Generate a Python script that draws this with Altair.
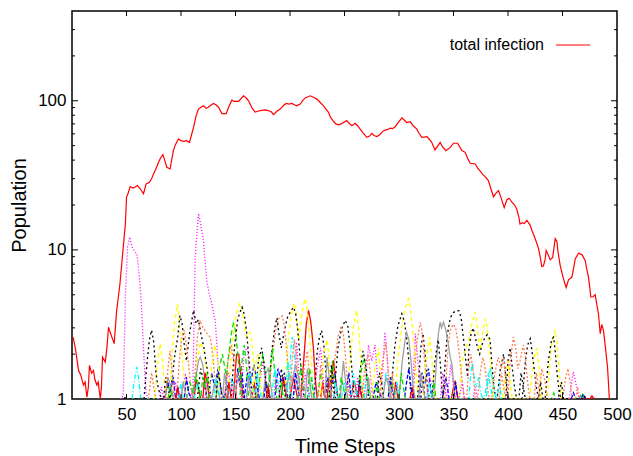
import altair as alt
import pandas as pd

# ---- total infection (red solid line) : (time step, population)
total = [(1,2.6),(3,2.2),(6,1.56),(8,1.45),(10.5,1.24),(12,1.3),(13.7,1.03),(15,1.2),(16,1.68),(18,1.49),
(19.7,1.55),(21,1.35),(22.8,1.24),(24,1.3),(26,1.0),(27,1.2),(28,1.91),(30.5,1.77),(32,2.2),(33.5,3.03),
(35,2.8),(36.6,2.6),(38.7,2.35),(41,3.93),(44,5.93),(47,10.4),(49,15),(50,22.5),(51.5,24),(53.4,26.6),
(56,26),(58,26.4),(60,27),(62.6,25.7),(65.6,23.8),(68,27.7),(71,28.4),(73,30),(74.8,32.3),(77,35),
(79.4,38.7),(81,41),(83.4,43.5),(85,40),(87,35.8),(90,34.9),(93,46.3),(95,51),(97.7,55.5),(100,54),
(102.3,53.5),(105,54),(107.8,52.7),(111.5,66.3),(114,80),(116,88),(118,90),(120.6,92.5),(123,89),(125,90.5),
(127,93),(129.8,96),(132,94),(134.4,90.5),(137.5,82),(141.5,82),(144,92),(146.7,101),(149,99),(152.8,99),
(157.3,108),(160,104),(162,100),(165,90),(168,84),(172.7,86),(177,87),(180,86),(183,84),(184.9,80.7),
(188,85),(191,88),(194,93),(196.5,96),(199,95),(201.7,96),(204,94),(206,92.5),(209.4,95),(212,101),
(214,104.5),(218.5,108),(221,106),(224.7,102.6),(228,97),(230.7,92.5),(233,88),(235.3,83.6),(237,78),(240,72.6),
(242,70),(244.5,69),(247,70),(249,71.5),(252,73.6),(254,71),(256.8,68),(259.8,70.7),(262,68),(264.4,64.5),
(267,61),(270.5,56.9),(273,58),(275,60.4),(277,58.5),(279.7,57.5),(282,59),(285.8,63),(289,64),(292,65.5),
(294,65),(296.5,67),(299,71),(302.7,76.8),(305,74),(307,71.5),(310.3,72.3),(313,68),(316.4,64.5),(318,61),
(321,56.9),(325.6,57.5),(328,55),(330,52.7),(333,46.8),(337.8,52.5),(340,49),(343,46.3),(347,48.7),(350,51.9),
(353.7,51.9),(357.7,46.3),(360.7,45.1),(363,41),(365.3,38.1),(370,37.7),(372,35.5),(374.5,33.7),(377,32),(379,31),
(382,29.2),(384.3,25.7),(386.7,22.7),(389,24),(391.3,25),(394,22),(396.5,19.2),(399,21.7),(401,22.2),(403.6,20.9),
(406,20),(408,18.8),(410,16.5),(411,14.9),(413,15.2),(415,15),(417.3,15.8),(420.4,14.6),(422,13.5),(424,12.4),
(426,11.3),(428,10.2),(429.5,9),(431,7.75),(432.5,7.8),(434,8.6),(435,9.9),(437,9.2),(438.7,8.6),(441,8.9),
(443.3,11.9),(444.8,11.4),(446,9.6),(447.9,7.85),(450.4,6.6),(452,6.0),(453.4,5.6),(455.5,6.3),(458.6,6.57),(460,7.4),
(461.7,8.7),(464.7,9.5),(467.8,9.3),(470.8,8.5),(472,7.6),(473.8,6.57),(475,5.6),(476,4.82),(478,4.85),(480,5.0),
(481.5,4.3),(483,3.73),(484.6,2.74),(486,3.16),(487.6,2.88),(489,2.35),(491.3,1.64),(493,1.0),(494,0.8)]

# ---- individual clusters (thin coloured lines near the bottom)
magenta1 = [(44,1),(47,1.05),(49,5),(51,10.5),(53,12.2),(55,10.5),(57,9.9),(59.5,9.4),(61,7.5),(62.6,5.6),
(64,3.8),(65.6,2.2),(67,1.4),(68,1.1),(70,1),(100,1),(104,1.48),(107,1.1),(109,1),(111,1.3),(113,9),(116,17.5),
(118,15),(120.6,11.5),(122,8.5),(123.7,6.2),(126,5),(128.3,4.35),(130,3.7),(131.4,3.37),(133,2.23),(135,1.3),
(137,1),(155,1),(158,2.1),(161,2.2),(163,1.3),(165,1),(203,1),(206,2.4),(209,1.2),(211,1),(268,1),(272,2.3),
(275,1.8),(278,2.3),(281,1.2),(283,1),(285,1.5),(287,2.8),(289,2.0),(291,1),(312,1),(315,2.74),(318,1.6),
(320,1),(344,1),(347.6,1.7),(350,1.2),(352,1),(456,1),(460,1.52),(463,1.2),(465,1)]
black1 = [(66,1),(69,1.8),(71,2.5),(73,2.9),(75,2.4),(77,1.5),(79,1.2),(82,1),(90,1),(94,1.9),(97,2.6),(99,3.63),
(101,3.2),(103,2.3),(105,1.8),(108,2.8),(111.5,3.93),(114,3.2),(116,3.4),(118,2.8),(121,2.2),(124,1.6),(126,1.2),
(128,1),(146,1),(149,2.2),(152,3.4),(154,3.8),(156,4.13),(158,3.7),(160,2.9),(162,2.0),(164,1.3),(166,1),(180,1),
(183,2),(186,3.0),(188,3.5),(190,2.7),(192,2.2),(195,2.9),(198,3.6),(201,3.9),(203,4.13),(205,3.8),(207,3.0),
(209,2.0),(211,1.3),(213,1),(222,1),(225,2.1),(227,2.6),(229,2.88),(231,2.3),(233,1.5),(235,1),(240,1),(244,2.2),
(247,2.9),(250.6,3.37),(253,3.1),(255,2.3),(257,1.5),(259,1),(292,1),(296,2.2),(299,3.1),(302.6,3.73),(305,3.3),
(307,2.6),(309,1.8),(311,1),(317,1),(320,2.2),(322,2.74),(324,2.0),(326,1.2),(328,1),(340,1),(344,2.6),(347,3.5),
(350,3.8),(353,3.93),(355,3.9),(357,3.5),(359,2.6),(361,1.9),(363,1.4),(364,2.1),(366,2.7),(368,3.0),(370,2.6),
(372,2.2),(374,2.0),(376,2.3),(379,2.6),(381,2.7),(383.6,2.5),(385,1.8),(387,1.2),(389,1),(398,1),(400,1.8),
(402,2.2),(404,1.6),(406,1.2),(408,1),(413,1),(416,1.8),(418,2.3),(420.4,2.54),(422,2.1),(424,1.6),(426,1.2),
(428,1),(434,1),(437,1.8),(440,2.5),(441.8,2.6),(443,2.2),(445,1.5),(447,1.1),(449,1)]
yellow1 = [(76,1),(78,1.6),(81,2.35),(83,1.8),(85,1.2),(87,1),(90,1),(92,2.1),(94,3.2),(96.8,4.35),(98,3.5),
(100,2.4),(102,1.6),(104,1.2),(106,1),(112,1),(115,1.8),(118,2.4),(121,2.1),(124,1.5),(126,1),(143,1),(146,2.0),
(149,3.0),(151,3.8),(154,4.37),(156,4.0),(158,3.2),(160,2.6),(163,2.8),(165,2.5),(167,1.6),(169,1),(195,1),
(198,2.4),(201,3.6),(204,4.4),(206,3.6),(208,2.5),(210,3.3),(212,4.2),(214,4.7),(216,3.8),(218,2.6),(220,1.6),
(222,1),(252,1),(255,1.8),(258,3.0),(261,3.93),(263,3.0),(265,1.8),(267,1),(296,1),(299,1.8),(302,2.8),(305,3.9),
(308.7,4.7),(310,4.2),(312,3.2),(314,2.2),(316,1.4),(318,1),(355,1),(358,1.8),(361,2.2),(364,2.5),(367,3.2),
(370,3.83),(372,3.0),(374,2.0),(376,2.6),(379,3.45),(381,3.0),(383,2.1),(385,1.4),(387,1),(420,1),(423,1.8),
(426.5,2.2),(429,1.5),(431,1),(436,1),(439,2.0),(441,2.6),(443.3,2.9),(445,2.3),(447,1.5),(449,1)]
orange1 = [(96,1),(99,2.0),(101,2.6),(103,2.9),(105,2.3),(107,1.7),(109,1.2),(111,1),(113,1.5),(115,2.6),
(117.6,3.37),(119,3.1),(120.6,3.0),(123,2.8),(126.8,2.6),(129,2.0),(131,1.4),(133,1),(180,1),(184,2.0),(187,2.9),
(190,3.5),(193,3.6),(195,3.0),(197,2.1),(199,1.4),(201,1),(238,1),(241,1.8),(244,2.6),(247,3.1),(249,2.7),
(251,1.9),(253,1.2),(255,1),(313,1),(316,2.3),(319.5,3.28),(321,2.9),(323,2.0),(325,1.3),(327,1),(342,1),
(345,2.2),(347,2.9),(349.5,3.17),(352,3.0),(354,2.4),(356,1.8),(358,1.3),(360,1),(372,1),(375,1.6),(377,1.9),
(379,1.6),(381,1.2),(383,1),(400,1),(402,1.8),(405,2.6),(407,2.2),(409,1.6),(411,1.8),(414,2.3),(416,1.9),
(418,1.3),(420,1),(450,1),(453,1.4),(455,1.6),(457,1.3),(459,1)]
grey1 = [(110,1),(113,1.3),(116,1.8),(117.6,1.91),(120,1.7),(122,1.3),(124,1),(175,1),(178,1.5),(180,1.6),
(182,1.3),(184,1),(300,1),(303,1.8),(306,2.6),(307,2.8),(309,2.5),(311,1.8),(313,1.2),(315,1),(332,1),(334,1.6),
(336,2.7),(337.8,3.28),(339,3.0),(340.8,3.28),(343,2.9),(345,2.4),(347,1.9),(348.5,1.73),(350,1.3),(351.6,1.0)]
green1 = [(140,1),(143,1.8),(146,2.7),(148,3.2),(150,2.9),(152,2.0),(154,1.4),(156,1),(170,1),(173,1.6),(175,2.0),
(177,1.5),(179,1),(225,1),(228,1.5),(230,1.2),(232,1),(262,1),(264,1.4),(266,1.2),(268,1)]
red1 = [(148,1),(150,1.6),(151,2.0),(153,2.0),(155,1.4),(157,1),(210,1),(213,2.0),(215,3.2),(217,3.93),(219,3.3),
(220.5,2.6),(221.5,2.2),(223,1.4),(225,1),(237,1),(239,1.6),(240,1.82),(242,1.3),(244,1),(256,1),(258,1.25),
(259,1.33),(261,1.1),(262,1),(348,1),(350,1.2),(351.5,1.33),(353,1.1),(354,1)]
cyan1 = [(55,1),(57,1.3),(59.5,1.64),(61,1.4),(63,1),(145,1),(147,1.4),(149,1.2),(151,1),(199,1),(201,2.2),
(202,2.6),(204,2.0),(206,1.4),(208,1),(268,1),(270,1.4),(272,1.2),(274,1),(364,1),(366,1.5),(367.4,1.75),
(369,1.4),(371,1.2),(373,1.4),(375,1.1),(377,1)]
blue1 = [(85,1),(88,1.3),(90,1.1),(93,1.4),(95,1),(125,1),(128,1.5),(131,1.2),(134,1.6),(137,1.1),(140,1),(158,1),
(161,1.5),(164,1.3),(167,1.7),(170,1.2),(172,1),(186,1),(189,1.6),(192,1.3),(195,1.5),(198,1),(232,1),(235,1.4),
(238,1.2),(241,1.5),(244,1),(276,1),(279,1.3),(282,1.1),(285,1),(318,1),(321,1.5),(324,1.3),(327,1.6),(330,1),
(340,1),(343,1.4),(346,1),(458,1),(460,1.1),(462,1)]
green2 = [(105,1),(108,1.3),(111,1.1),(114,1.5),(117,1),(132,1),(135,1.6),(138,2.0),(141,1.5),(143,1),(178,1),
(181,1.4),(184,2.2),(186,1.5),(188,1),(207,1),(210,1.7),(212,1.3),(214,1),(236,1),(239,1.8),(241,1.3),(244,1),
(262,1),(265,1.5),(268,1.9),(271,1.3),(273,1),(290,1),(293,1.4),(296,1),(465,1),(468,1.1),(470,1)]
magenta2 = [(92,1),(95,1.3),(97,1),(140,1),(143,1.5),(146,1.3),(148,1),(170,1),(173,1.4),(175,1.8),(177,1.4),
(179,1),(222,1),(225,1.6),(228,2.2),(230,1.5),(232,1),(250,1),(253,1.3),(256,1),(325,1),(328,1.4),(331,1.2),
(333,1),(355,1),(358,1.3),(360,1)]
grey2 = [(85,1),(88,1.4),(91,1.2),(93,1),(128,1),(131,1.3),(134,1.1),(136,1),(196,1),(199,1.5),(202,1.3),
(205,1.7),(208,1.4),(210,1),(246,1),(249,1.8),(251,1.3),(253,1),(285,1),(288,1.4),(291,1.2),(293,1)]
cyan2 = [(112,1),(115,1.3),(118,1.1),(120,1),(160,1),(163,1.5),(166,1.2),(168,1),(183,1),(186,1.6),(189,1.3),
(191,1),(217,1),(220,1.4),(223,1),(247,1),(250,1.3),(253,1),(285,1),(288,1.5),(291,1.2),(293,1),(378,1),
(381,1.3),(384,1.6),(387,1.2),(389,1)]
red2 = [(112,1),(114,1.35),(116,1.2),(118,1),(165,1),(167,1.3),(169,1),(200,1),(203,1.4),(205,1.2),(207,1),
(228,1),(230,1.3),(232,1),(310,1),(312,1.2),(314,1),(475,1),(477,1.05),(479,1)]
orange2 = [(70,1),(73,1.5),(75,1.2),(77,1),(140,1),(143,1.8),(146,2.3),(149,1.7),(151,1),(210,1),(213,1.6),
(216,2.1),(218,1.4),(220,1),(266,1),(269,1.7),(272,2.0),(274,1.4),(276,1),(282,1),(285,1.8),(288,2.4),(290,1.6),
(292,1),(385,1),(388,1.5),(391,1.9),(394,1.6),(396,1.9),(398,1.3),(400,1),(428,1),(431,1.6),(434,1.3),(436,1)]
yellow2 = [(125,1),(128,1.6),(131,2.3),(134,1.8),(136,1),(165,1),(168,1.7),(171,2.0),(173,1.3),(175,1),(228,1),
(231,2.0),(234,2.5),(236,1.8),(238,1),(275,1),(278,1.6),(281,2.2),(283,1.5),(285,1),(322,1),(325,1.9),(328,2.6),
(330,2.0),(332,1.2),(334,1),(395,1),(398,1.5),(400,1.8),(402,1.3),(404,1)]
black2 = [(115,1),(118,1.6),(121,1.3),(124,1),(168,1),(171,1.8),(174,2.2),(177,1.6),(179,1),(262,1),(264,1.5),
(267,2.1),(270,1.6),(272,1),(330,1),(333,1.8),(336,2.5),(338,1.7),(340,1),(390,1),(393,1.6),(396,2.0),(398,1.4),
(400,1),(446,1),(449,1.3),(451,1)]
blue2 = [(95,1),(97,1.2),(99,1),(103,1),(105,1.4),(107,1.1),(110,1),(140,1),(142,1.3),(144,1),(150,1),(152,1.6),
(154,1.2),(156,1.5),(158,1),(176,1),(178,1.3),(180,1.1),(182,1),(203,1),(205,1.5),(207,1.2),(209,1),(250,1),
(252,1.2),(254,1.5),(256,1),(262,1),(264,1.3),(266,1),(290,1),(292,1.4),(294,1.1),(296,1),(305,1),(307,1.3),
(309,1.6),(311,1.2),(313,1),(350,1),(352,1.3),(354,1),(467,1),(469,1.08),(471,1)]
green3 = [(88,1),(90,1.2),(92,1),(118,1),(120,1.4),(122,1.2),(124,1.5),(126,1),(154,1),(156,1.8),(158,2.3),
(160,1.7),(162,1),(190,1),(192,1.3),(194,1),(216,1),(218,1.6),(220,1.3),(222,1),(245,1),(247,1.4),(249,1.2),
(251,1),(278,1),(280,1.3),(282,1),(300,1),(302,1.5),(304,1.2),(306,1),(330,1),(332,1.3),(334,1),(440,1),
(442,1.1),(444,1)]
magenta3 = [(80,1),(82,1.2),(84,1),(122,1),(124,1.3),(126,1.1),(128,1),(185,1),(187,1.4),(189,1.2),(191,1),
(212,1),(214,1.5),(216,1.2),(218,1),(240,1),(242,1.3),(244,1),(260,1),(262,1.4),(264,1),(296,1),(298,1.3),
(300,1),(338,1),(340,1.5),(342,1.2),(344,1),(368,1),(370,1.2),(372,1)]
grey3 = [(100,1),(102,1.3),(104,1.1),(106,1),(138,1),(140,1.5),(142,1.2),(144,1),(160,1),(162,1.4),(164,1),
(214,1),(216,1.6),(218,1.3),(220,1),(232,1),(234,1.9),(236,1.4),(238,1),(270,1),(272,1.4),(274,1),(318,1),
(320,1.5),(322,1.2),(324,1)]
red3 = [(95,1),(97,1.2),(99,1),(120,1),(122,1.5),(124,1.3),(126,1),(142,1),(144,1.3),(146,1),(178,1),(180,1.2),
(182,1),(192,1),(194,1.4),(196,1.1),(198,1),(234,1),(236,1.4),(238,1),(262,1),(264,1.2),(266,1),(295,1),
(297,1.3),(299,1)]
cyan3 = [(98,1),(100,1.3),(102,1),(130,1),(132,1.4),(134,1.2),(136,1),(168,1),(170,1.5),(172,1.2),(174,1),
(196,1),(198,1.8),(200,1.3),(202,1),(240,1),(242,1.3),(244,1),(256,1),(258,1.5),(260,1.2),(262,1),(296,1),
(298,1.3),(300,1),(326,1),(328,1.3),(330,1),(380,1),(382,1.5),(384,1.2),(386,1),(390,1),(392,1.3),(394,1)]
orange3 = [(86,1),(88,1.6),(90,2.1),(92,1.5),(94,1),(150,1),(152,1.5),(154,1.2),(156,1),(200,1),(202,1.8),
(204,2.5),(206,1.9),(208,1),(226,1),(228,1.7),(230,1.3),(232,1),(292,1),(294,1.5),(296,1),(362,1),(364,1.6),
(366,2.0),(368,1.5),(370,1),(392,1),(394,1.5),(396,1.2),(398,1),(424,1),(426,1.5),(428,1.2),(430,1),(462,1),
(464,1.2),(466,1)]
black3 = [(48,1),(49,1.05),(50,1),(84,1),(86,1.4),(88,1.2),(90,1),(132,1),(134,1.5),(136,1.3),(138,1),(190,1),
(192,1.6),(194,1.3),(196,1),(236,1),(238,1.7),(240,1.2),(242,1),(280,1),(282,1.5),(284,1.3),(286,1),(320,1),
(322,1.4),(324,1),(410,1),(412,1.5),(414,1.2),(416,1),(428,1),(430,1.3),(432,1),(468,1),(470,1.05),(472,1)]

series = {
    "red1": red1, "green1": green1, "blue1": blue1, "magenta1": magenta1, "cyan1": cyan1,
    "yellow1": yellow1, "black1": black1, "orange1": orange1, "grey1": grey1,
    "red2": red2, "green2": green2, "blue2": blue2, "magenta2": magenta2, "cyan2": cyan2,
    "yellow2": yellow2, "black2": black2, "orange2": orange2, "grey2": grey2,
    "red3": red3, "green3": green3, "magenta3": magenta3, "cyan3": cyan3,
    "black3": black3, "orange3": orange3, "grey3": grey3,
}
series_names = list(series.keys())
palette = {"red": "#ff0000", "green": "#00e000", "blue": "#0000ff", "magenta": "#ff00ff", "cyan": "#00ffff",
           "yellow": "#ffff00", "black": "#000000", "orange": "#ff7f50", "grey": "#a0a0a0"}
dash_styles = {"red": [1, 0], "green": [5, 3], "blue": [4, 2], "magenta": [1, 2], "cyan": [5, 2, 1, 2],
               "yellow": [4, 3], "black": [2, 3], "orange": [2, 2], "grey": [1, 0]}
series_colors = [palette[n[:-1]] for n in series_names]
series_dashes = [dash_styles[n[:-1]] for n in series_names]

x_ticks = [50, 100, 150, 200, 250, 300, 350, 400, 450, 500]
y_ticks = [1, 10, 100]
y_minor = [2, 3, 4, 5, 6, 7, 8, 9, 20, 30, 40, 50, 60, 70, 80, 90, 200, 300]
legend_label = ["total infection"]

rows = []
for name, pts in series.items():
    for t, v in pts:
        rows.append({"series": name, "t": t, "v": v})
df_small = pd.DataFrame(rows)
df_total = pd.DataFrame({"t": [p[0] for p in total], "v": [p[1] for p in total]})

W, H = 545, 388
xs = alt.Scale(domain=[0, 500], nice=False, zero=False)
ys = alt.Scale(type="log", domain=[1, 400], nice=False)
FONT = "Liberation Sans"

x_axis = alt.Axis(values=x_ticks, ticks=False, domain=False, grid=False, labelFontSize=17, labelPadding=7,
                  labelFont=FONT, labelColor="#000", title="Time Steps", titleFont=FONT, titleFontSize=20,
                  titleFontWeight="normal", titleColor="#000", titlePadding=14, labelFlush=False, labelOverlap=False)
y_axis = alt.Axis(values=y_ticks, format="d", ticks=False, domain=False, grid=False, labelFontSize=17,
                  labelPadding=6, labelFont=FONT, labelColor="#000", title="Population", titleFont=FONT,
                  titleFontSize=20, titleFontWeight="normal", titleColor="#000", titlePadding=8,
                  labelFlush=False, labelOverlap=False)

X = alt.X("t:Q", scale=xs, axis=x_axis)
Y = alt.Y("v:Q", scale=ys, axis=y_axis)

small = alt.Chart(df_small).mark_line(clip=True, strokeWidth=1.3).encode(
    x=X, y=Y,
    color=alt.Color("series:N", scale=alt.Scale(domain=series_names, range=series_colors), legend=None),
    strokeDash=alt.StrokeDash("series:N", scale=alt.Scale(domain=series_names, range=series_dashes), legend=None),
)

total_line = alt.Chart(df_total).mark_line(clip=True, color="#ff0000", strokeWidth=1.2).encode(x=X, y=Y)

xt = pd.DataFrame({"t": x_ticks[:-1]})
ymaj = pd.DataFrame({"v": y_ticks[1:]})
ymin = pd.DataFrame({"v": y_minor})

def xtick(y0, y1):
    return alt.Chart(xt).mark_rule(color="black", strokeWidth=1).encode(
        x=X, y=alt.value(y0), y2=alt.value(y1))

def ytick(df, x0, x1):
    return alt.Chart(df).mark_rule(color="black", strokeWidth=1).encode(
        y=Y, x=alt.value(x0), x2=alt.value(x1))

ticks = [xtick(H, H - 5), xtick(0, 5),
         ytick(ymaj, 0, 6), ytick(ymaj, W, W - 6), ytick(ymin, 0, 3), ytick(ymin, W, W - 3)]

leg_df = pd.DataFrame({"label": legend_label})
leg_text = alt.Chart(leg_df).mark_text(align="right", baseline="middle", fontSize=16, font=FONT,
                                       color="#000").encode(text="label:N", x=alt.value(472), y=alt.value(34))
leg_line = alt.Chart(leg_df).mark_rule(color="#ff0000", strokeWidth=1.2).encode(
    x=alt.value(484), x2=alt.value(518), y=alt.value(34))

chart = alt.layer(total_line, small, *ticks, leg_text, leg_line).properties(
    width=W, height=H,
    autosize=alt.AutoSizeParams(type="none"),
    padding={"left": 72, "top": 11, "right": 16, "bottom": 57},
).configure_view(stroke="black", strokeWidth=1.5)

chart.save("out.html", embed_options={"renderer": "svg", "actions": False})
